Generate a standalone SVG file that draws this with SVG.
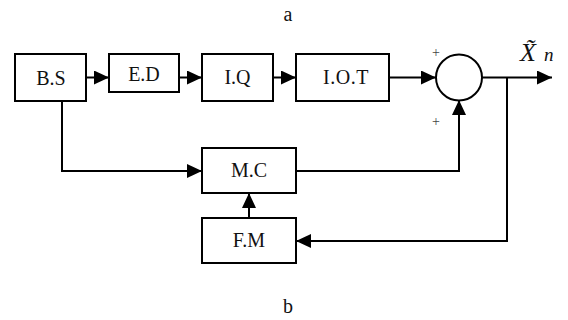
<svg xmlns="http://www.w3.org/2000/svg" width="568" height="320" viewBox="0 0 568 320">
<style>
.box{fill:#fff;stroke:#000;stroke-width:2}
text{font-family:'Liberation Serif','Times New Roman',Times,serif;fill:#111}
.lbl{font-size:20px;text-anchor:middle}
.wire{fill:none;stroke:#000;stroke-width:2}
.plus{font-size:14px;fill:#444;text-anchor:middle}
</style>
<defs>
<marker id="ah" viewBox="0 0 15 14" refX="15" refY="7" markerWidth="15" markerHeight="14" markerUnits="userSpaceOnUse" orient="auto">
<path d="M0,0 L15,7 L0,14 Z" fill="#000"/>
</marker>
</defs>
<text class="lbl" x="288" y="21" font-size="22">a</text>
<text class="lbl" x="288" y="313" font-size="22">b</text>
<g id="connectors">
<line class="wire" x1="86" y1="77.5" x2="109" y2="77.5" marker-end="url(#ah)"/>
<line class="wire" x1="179" y1="77.5" x2="202" y2="77.5" marker-end="url(#ah)"/>
<line class="wire" x1="273" y1="77.5" x2="296" y2="77.5" marker-end="url(#ah)"/>
<line class="wire" x1="389" y1="77.5" x2="436" y2="77.5" marker-end="url(#ah)"/>
<line class="wire" x1="482" y1="77.5" x2="552" y2="77.5" marker-end="url(#ah)"/>
<polyline class="wire" points="507,77.5 507,241 296,241" marker-end="url(#ah)"/>
<polyline class="wire" points="62,101 62,171 202,171" marker-end="url(#ah)"/>
<polyline class="wire" points="296,171 459,171 459,100" marker-end="url(#ah)"/>
<line class="wire" x1="249" y1="218" x2="249" y2="193" marker-end="url(#ah)"/>
</g>
<g id="BS"><rect class="box" x="15" y="54" width="71" height="47"/><text class="lbl" x="51" y="85">B.S</text></g>
<g id="ED"><rect class="box" x="109" y="54" width="70" height="38"/><text class="lbl" x="144" y="81" font-size="18">E.D</text></g>
<g id="IQ"><rect class="box" x="202" y="54" width="71" height="47"/><text class="lbl" x="237.5" y="84">I.Q</text></g>
<g id="IOT"><rect class="box" x="296" y="54" width="93" height="47"/><text class="lbl" x="346" y="84" font-size="21" letter-spacing="0.5">I.O.T</text></g>
<g id="sum"><circle cx="459" cy="77.5" r="23" fill="#fff" stroke="#000" stroke-width="2"/></g>
<g id="MC"><rect class="box" x="202" y="148" width="94" height="45"/><text class="lbl" x="249" y="177" font-size="21">M.C</text></g>
<g id="FM"><rect class="box" x="202" y="218" width="94" height="45"/><text class="lbl" x="249" y="247" font-size="21">F.M</text></g>
<text class="plus" x="436" y="57">+</text>
<text class="plus" x="436" y="126">+</text>
<g id="output-label">
<text x="520" y="61" font-style="italic" font-size="26">X̃</text>
<text x="544" y="61" font-style="italic" font-size="19">n</text>
</g>
</svg>
